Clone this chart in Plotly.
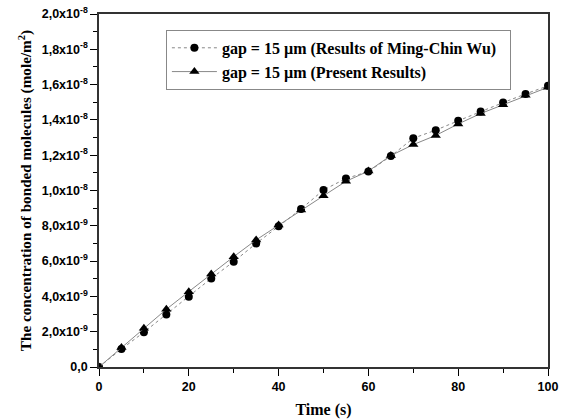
import plotly.graph_objects as go

time_s = [0, 5, 10, 15, 20, 25, 30, 35, 40, 45, 50, 55, 60, 65, 70, 75, 80, 85, 90, 95, 100]
wu_e9 = [0.0, 1.02, 1.97, 2.98, 3.98, 5.02, 5.97, 7.0, 7.97, 8.95, 10.03, 10.68, 11.07, 11.95, 12.96, 13.42, 13.95, 14.48, 14.98, 15.47, 15.93]
present_e9 = [0.0, 1.1, 2.2, 3.27, 4.27, 5.27, 6.25, 7.2, 8.05, 8.9, 9.7, 10.52, 11.1, 11.98, 12.6, 13.12, 13.77, 14.36, 14.86, 15.39, 15.85]

y_tickvals = [0, 2e-9, 4e-9, 6e-9, 8e-9, 1e-8, 1.2e-8, 1.4e-8, 1.6e-8, 1.8e-8, 2e-8]
y_ticktext = ["0,0", "2,0x10<sup>-9</sup>", "4,0x10<sup>-9</sup>", "6,0x10<sup>-9</sup>",
              "8,0x10<sup>-9</sup>", "1,0x10<sup>-8</sup>", "1,2x10<sup>-8</sup>",
              "1,4x10<sup>-8</sup>", "1,6x10<sup>-8</sup>", "1,8x10<sup>-8</sup>", "2,0x10<sup>-8</sup>"]

wu = [v * 1e-9 for v in wu_e9]
present = [v * 1e-9 for v in present_e9]

fig = go.Figure()
fig.add_trace(go.Scatter(
    x=time_s, y=wu, mode="lines+markers",
    name="gap = 15 \u00b5m (Results of Ming-Chin Wu)  ",
    line=dict(color="#888888", width=1, dash="dot"),
    marker=dict(symbol="circle", size=8, color="black"),
))
fig.add_trace(go.Scatter(
    x=time_s, y=present, mode="lines+markers",
    name="gap = 15 \u00b5m (Present Results)",
    line=dict(color="#888888", width=1),
    marker=dict(symbol="triangle-up", size=9, color="black"),
))

tickfont = dict(family="Liberation Sans", size=12.5, color="black", weight="bold")
titlefont = dict(family="Liberation Serif", size=16, color="black", weight="bold")

fig.update_layout(
    width=567, height=419,
    margin=dict(l=99, r=19, t=14, b=52, autoexpand=False),
    paper_bgcolor="white", plot_bgcolor="white",
    showlegend=True,
    legend=dict(
        x=0.149, y=0.955, xanchor="left", yanchor="top",
        bordercolor="#888888", borderwidth=1, bgcolor="white",
        font=dict(family="Liberation Serif", size=16, color="black", weight="bold"),
        tracegroupgap=0, itemwidth=45,
    ),
    xaxis=dict(
        range=[0, 100], tickvals=[0, 20, 40, 60, 80, 100], automargin=False,
        ticks="outside", ticklen=7, tickwidth=1, tickcolor="black",
        minor=dict(tickvals=[10, 30, 50, 70, 90], ticks="outside", ticklen=4, tickcolor="black"),
        showline=True, linecolor="#333333", linewidth=1.5, mirror=True,
        showgrid=False, zeroline=False, tickfont=tickfont,
        title=dict(text="Time (s)", font=titlefont, standoff=14),
    ),
    yaxis=dict(
        range=[0, 2e-8], tickvals=y_tickvals, ticktext=y_ticktext, automargin=False,
        ticks="outside", ticklen=7, tickwidth=1, tickcolor="black",
        minor=dict(tickvals=[1e-9, 3e-9, 5e-9, 7e-9, 9e-9, 1.1e-8, 1.3e-8, 1.5e-8, 1.7e-8, 1.9e-8],
                   ticks="outside", ticklen=4, tickcolor="black"),
        showline=True, linecolor="#333333", linewidth=1.5, mirror=True,
        showgrid=False, zeroline=False, tickfont=tickfont,
        title=dict(text="The concentration of bonded molecules (mole/m<sup>2</sup>)",
                   font=dict(family="Liberation Serif", size=15.2, color="black", weight="bold"), standoff=6),
    ),
)

fig.write_html("out.html")
